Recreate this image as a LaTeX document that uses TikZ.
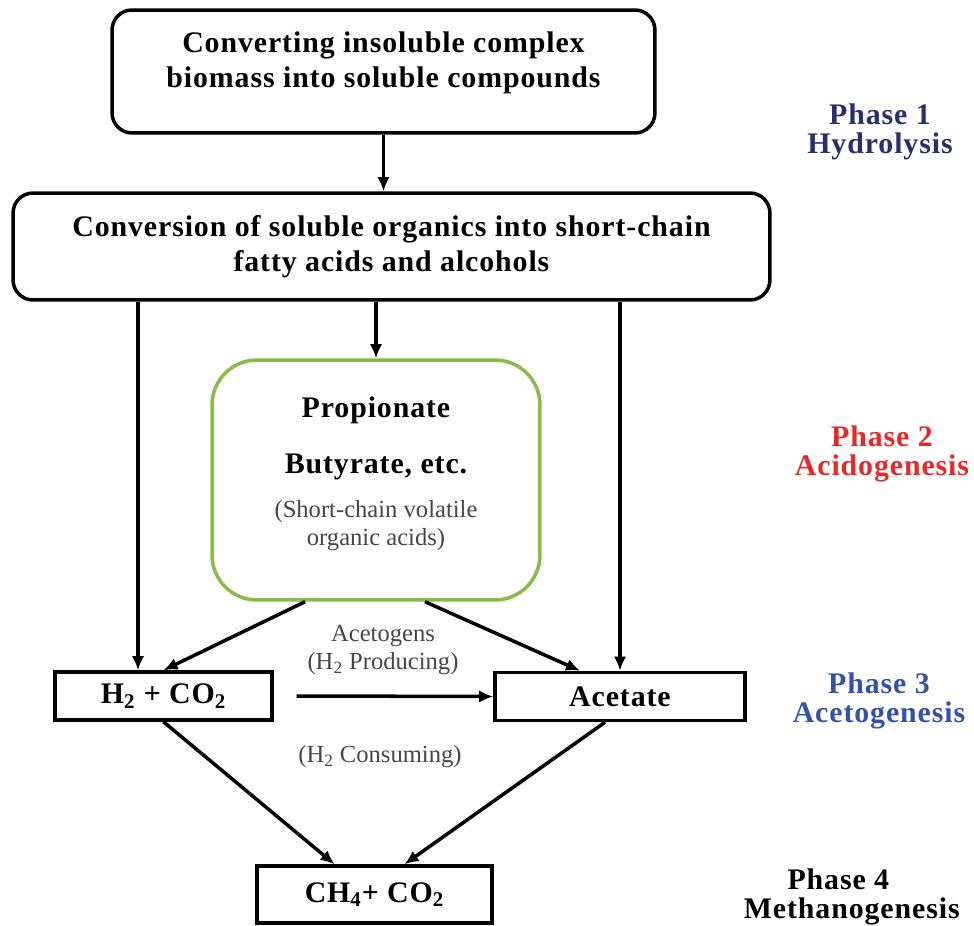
\documentclass[tikz,border=0pt]{standalone}
\usepackage{fontspec}
\setmainfont{Liberation Serif}
\usetikzlibrary{arrows.meta}
\definecolor{phaseone}{RGB}{40,46,110}
\definecolor{phasetwo}{RGB}{232,40,40}
\definecolor{phasethree}{RGB}{50,82,172}
\definecolor{acidgreen}{RGB}{134,188,72}
\definecolor{notegray}{RGB}{70,70,70}
\newcommand{\boldfnt}{\fontsize{17}{20}\selectfont\bfseries\addfontfeatures{LetterSpace=3}}
\newcommand{\phasefnt}{\fontsize{17}{16.5}\selectfont\bfseries\addfontfeatures{LetterSpace=3}}
\newcommand{\notefnt}{\fontsize{14}{16}\selectfont}

\begin{document}
\begin{tikzpicture}[x=0.02cm,y=-0.02cm,
    box/.style={draw,line width=2pt,align=center,font=\boldfnt,inner sep=0pt},
    arr/.style={draw,line width=2pt,-{Latex[length=8pt,width=7pt]}},
    phase/.style={align=center,font=\phasefnt},
    note/.style={align=center,font=\notefnt,text=notegray}]
  \useasboundingbox (0,0) rectangle (974,926);
  % boxes
  \node[box,rounded corners=0.4cm,minimum width=10.86cm,minimum height=2.46cm] (hydro) at (383.5,71.5) {};
  \node[font=\boldfnt,align=center] (hydrotxt) at (383.5,62.5) {Converting insoluble complex\\biomass into soluble compounds};
  \node[box,rounded corners=0.4cm,minimum width=15.14cm,minimum height=2.14cm] (conv) at (391.5,246.5) {Conversion of soluble organics into short-chain\\fatty acids and alcohols};
  \node[draw=acidgreen,line width=2pt,rounded corners=0.9cm,minimum width=6.56cm,minimum height=4.8cm] (acids) at (376,480) {};
  \node[font=\boldfnt] (prop) at (376,410) {Propionate};
  \node[font=\boldfnt] (buty) at (376,467) {Butyrate, etc.};
  \node[note] (vfa) at (376,526) {(Short-chain volatile\\organic acids)};
  \node[box,minimum width=4.34cm,minimum height=0.96cm] (htwo) at (163.5,696) {H\textsubscript{2} + CO\textsubscript{2}};
  \node[box,minimum width=5cm,minimum height=0.96cm] (acet) at (620,696.5) {Acetate};
  \node[box,minimum width=4.7cm,minimum height=1.14cm] (meth) at (374.5,894.5) {CH\textsubscript{4}+ CO\textsubscript{2}};
  % notes
  \node[note] (prod) at (383,650) {Acetogens\\(H\textsubscript{2} Producing)};
  \node[note] (cons) at (380,757) {(H\textsubscript{2} Consuming)};
  % phases
  \node[phase,text=phaseone] (ph1) at (880,132) {Phase 1\\Hydrolysis};
  \node[phase,text=phasetwo] (ph2) at (882,454) {Phase 2\\Acidogenesis};
  \node[phase,text=phasethree] (ph3) at (879,701) {Phase 3\\Acetogenesis};
  \node[phase,anchor=east,inner sep=0pt] (ph4) at (960,897) {Phase 4\hspace*{0.9em}\\Methanogenesis};
  % arrows
  \coordinate (lftend) at ([xshift=-0.51cm]htwo.north);
  \path[arr] (hydro.south) -- (hydro.south |- conv.north);
  \path[arr] (lftend |- conv.south) -- (lftend);
  \path[arr] (acids.north |- conv.south) -- (acids.north);
  \path[arr] (acet.north |- conv.south) -- (acet.north);
  \path[arr] ([xshift=-1.42cm]acids.south) -- (htwo.north);
  \path[arr] ([xshift=0.98cm]acids.south) -- ([xshift=-0.8cm]acet.north);
  \path[arr] ([xshift=0.46cm]htwo.east) -- (acet.west);
  \path[arr] (htwo.south) -- ([xshift=-0.8cm]meth.north);
  \path[arr] ([xshift=-0.3cm]acet.south) -- ([xshift=0.6cm]meth.north);
\end{tikzpicture}
\end{document}
